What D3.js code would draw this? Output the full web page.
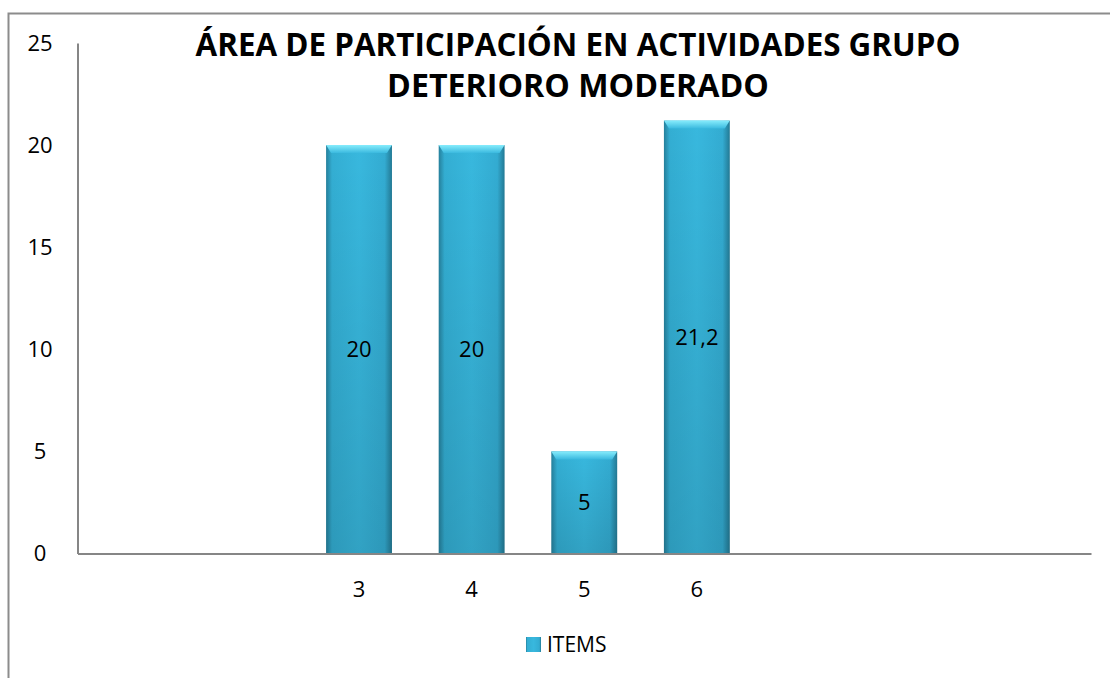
<!DOCTYPE html>
<html>
<head>
<meta charset="utf-8">
<script src="https://cdn.jsdelivr.net/npm/d3@7"></script>
<style>
  body { margin: 0; background: #fff; }
  text { font-family: "Open Sans", "Liberation Sans", sans-serif; fill: #000; }
</style>
</head>
<body>
<div id="chart"></div>
<script>
// data
const slots = ["s1", "s2", "3", "4", "5", "6", "s7", "s8", "s9"];
const slotLabels = ["", "", "3", "4", "5", "6", "", "", ""];
const categories = ["3", "4", "5", "6"];
const values = [20, 20, 5, 21.2];
const valueLabels = ["20", "20", "5", "21,2"];
const yTicks = [0, 5, 10, 15, 20, 25];
const titleLines = ["ÁREA DE PARTICIPACIÓN EN ACTIVIDADES GRUPO", "DETERIORO MODERADO"];
const seriesName = "ITEMS";

// constants
const WIDTH = 1110;
const HEIGHT = 678;
const PLOT_LEFT = 77.5;
const PLOT_RIGHT = 1091;
const PLOT_TOP = 43;
const PLOT_BOTTOM = 553.5;
const TITLE_WIDTHS = [765, 382];

const svg = d3.select("#chart").append("svg")
    .attr("width", WIDTH)
    .attr("height", HEIGHT);

const defs = svg.append("defs");
const grad = defs.append("linearGradient")
    .attr("id", "barGrad")
    .attr("x1", "0%").attr("x2", "100%").attr("y1", "0%").attr("y2", "0%");
grad.append("stop").attr("offset", "0%").attr("stop-color", "#25809c");
grad.append("stop").attr("offset", "9%").attr("stop-color", "#33aed3");
grad.append("stop").attr("offset", "50%").attr("stop-color", "#38b8de");
grad.append("stop").attr("offset", "89%").attr("stop-color", "#33acd2");
grad.append("stop").attr("offset", "100%").attr("stop-color", "#237a95");

const shade = defs.append("linearGradient")
    .attr("id", "barShade")
    .attr("x1", "0%").attr("x2", "0%").attr("y1", "0%").attr("y2", "100%");
shade.append("stop").attr("offset", "0%").attr("stop-color", "#000").attr("stop-opacity", 0);
shade.append("stop").attr("offset", "100%").attr("stop-color", "#000").attr("stop-opacity", 0.12);

const bevel = defs.append("linearGradient")
    .attr("id", "barBevel")
    .attr("x1", "0%").attr("x2", "0%").attr("y1", "0%").attr("y2", "100%");
bevel.append("stop").attr("offset", "0%").attr("stop-color", "#86ecfc");
bevel.append("stop").attr("offset", "100%").attr("stop-color", "#3ab9df");

// outer frame
svg.append("rect")
    .attr("x", 8.5).attr("y", 13.5)
    .attr("width", WIDTH + 10).attr("height", HEIGHT + 10)
    .attr("fill", "none")
    .attr("stroke", "#8c8c8c")
    .attr("stroke-width", 2);

const x = d3.scaleBand()
    .domain(slots)
    .range([PLOT_LEFT, PLOT_RIGHT])
    .paddingInner(0.415)
    .paddingOuter(0.2075);

const y = d3.scaleLinear()
    .domain([0, 25])
    .range([PLOT_BOTTOM, PLOT_TOP]);

// y axis
const yAxis = svg.append("g")
    .attr("transform", "translate(" + PLOT_LEFT + ",0)")
    .call(d3.axisLeft(y).tickValues(yTicks).tickSize(0).tickPadding(26));
yAxis.select(".domain").attr("stroke", "#868686").attr("stroke-width", 2);
yAxis.selectAll("text")
    .style("font-family", "'Open Sans', sans-serif")
    .style("font-size", "22px")
    .attr("fill", "#000")
    .attr("text-anchor", "middle")
    .attr("x", 40 - PLOT_LEFT);

// bars
const barData = categories.map((c, i) => ({ cat: c, value: values[i], label: valueLabels[i] }));
const bars = svg.append("g").selectAll("g")
    .data(barData)
    .join("g");

bars.append("rect")
    .attr("x", d => x(d.cat))
    .attr("y", d => y(d.value))
    .attr("width", x.bandwidth())
    .attr("height", d => PLOT_BOTTOM - y(d.value))
    .attr("fill", "url(#barGrad)");
bars.append("rect")
    .attr("x", d => x(d.cat))
    .attr("y", d => y(d.value))
    .attr("width", x.bandwidth())
    .attr("height", d => PLOT_BOTTOM - y(d.value))
    .attr("fill", "url(#barShade)");
bars.append("path")
    .attr("d", d => {
        const x0 = x(d.cat), x1 = x0 + x.bandwidth(), y0 = y(d.value);
        return "M" + x0 + "," + y0 + " L" + x1 + "," + y0 + " L" + (x1 - 5) + "," + (y0 + 8) +
            " L" + (x0 + 5) + "," + (y0 + 8) + " Z";
    })
    .attr("fill", "url(#barBevel)");

// value labels
bars.append("text")
    .attr("x", d => x(d.cat) + x.bandwidth() / 2)
    .attr("y", d => y(d.value / 2))
    .attr("dy", "0.35em")
    .attr("text-anchor", "middle")
    .style("font-size", "22px")
    .text(d => d.label);

// x axis
const xAxis = svg.append("g")
    .attr("transform", "translate(0," + PLOT_BOTTOM + ")")
    .call(d3.axisBottom(x).tickSize(0).tickPadding(28).tickFormat((d, i) => slotLabels[i]));
xAxis.select(".domain").attr("stroke", "#868686").attr("stroke-width", 2);
xAxis.selectAll("text")
    .style("font-family", "'Open Sans', sans-serif")
    .style("font-size", "22px")
    .attr("fill", "#000");

// title, sized to the width of the original lines
const title = svg.append("g");
titleLines.forEach((line, i) => {
    const t = title.append("text")
        .attr("x", 578)
        .attr("y", 56 + i * 41)
        .attr("text-anchor", "middle")
        .style("font-family", "'Open Sans', sans-serif")
        .style("font-weight", "bold")
        .style("font-size", "30px")
        .text(line);
    const w = t.node().getComputedTextLength();
    t.style("font-size", (30 * TITLE_WIDTHS[i] / w).toFixed(2) + "px");
});

// legend
const legend = svg.append("g").attr("transform", "translate(526,637)");
legend.append("rect")
    .attr("width", 15).attr("height", 15)
    .attr("fill", "url(#barGrad)");
legend.append("text")
    .attr("x", 21)
    .attr("y", 15)
    .style("font-size", "21px")
    .text(seriesName);
</script>
</body>
</html>
